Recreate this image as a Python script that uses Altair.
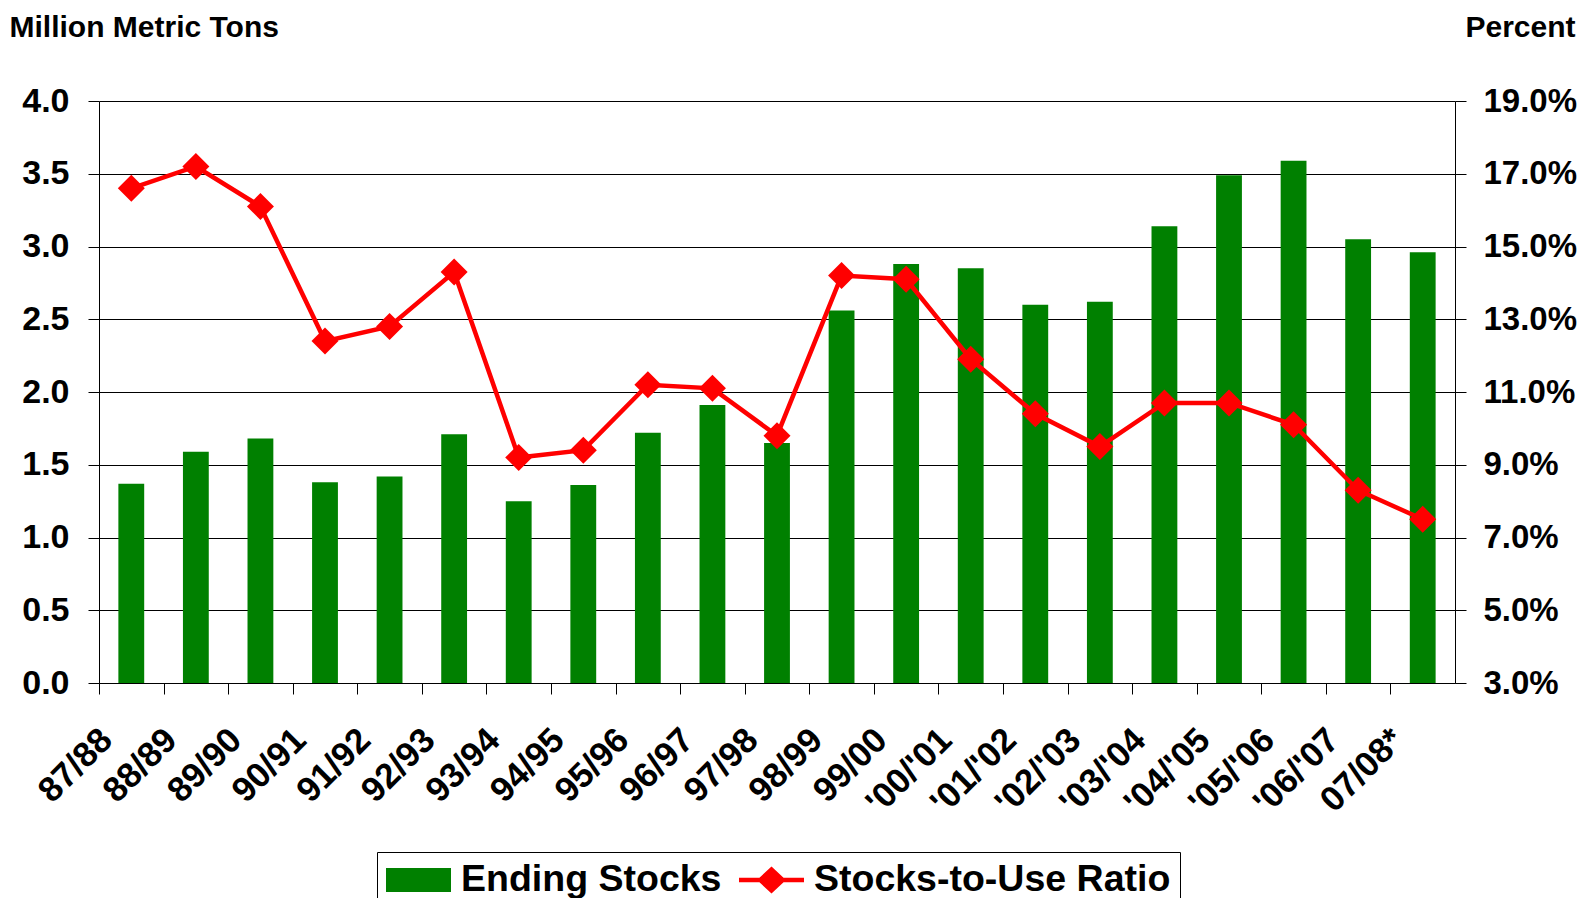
import altair as alt
import pandas as pd

seasons = ["87/88", "88/89", "89/90", "90/91", "91/92", "92/93", "93/94", "94/95",
           "95/96", "96/97", "97/98", "98/99", "99/00", "'00/'01", "'01/'02", "'02/'03",
           "'03/'04", "'04/'05", "'05/'06", "'06/'07", "07/08*"]
ending_stocks = [1.37, 1.59, 1.68, 1.38, 1.42, 1.71, 1.25, 1.36, 1.72, 1.91, 1.65,
                 2.56, 2.88, 2.85, 2.60, 2.62, 3.14, 3.49, 3.59, 3.05, 2.96]
stocks_to_use = [16.6, 17.2, 16.1, 12.4, 12.8, 14.3, 9.2, 9.4, 11.2, 11.1, 9.8,
                 14.2, 14.1, 11.9, 10.4, 9.5, 10.7, 10.7, 10.1, 8.3, 7.5]
series_names = ["Ending Stocks", "Stocks-to-Use Ratio"]
series_colors = ["#008000", "#FF0000"]
left_ticks = [0, 0.5, 1.0, 1.5, 2.0, 2.5, 3.0, 3.5, 4.0]
right_ticks = [3, 5, 7, 9, 11, 13, 15, 17, 19]

df = pd.DataFrame({"season": seasons, "stocks": ending_stocks, "ratio": stocks_to_use})
legend_df = pd.DataFrame({"series": series_names})

FONT = "Liberation Sans"
W, H = 1356, 582
n = len(seasons)
step = W / n

rect_path = "M-1,-0.37H1V0.37H-1Z"
line_path = "M-1,-0.07H-0.371L0,-0.415L0.371,-0.07H1V0.07H0.371L0,0.415L-0.371,0.07H-1Z"

x_enc = alt.X(
    "season:N", sort=seasons, title=None,
    scale=alt.Scale(paddingInner=0.6, paddingOuter=0.3),
    axis=alt.Axis(labelAngle=-45, labelAlign="right", labelBaseline="middle",
                  tickOffset=-step / 2, labelOffset=7, tickSize=11, labelPadding=40,
                  domainColor="black", tickColor="black", labelFontSize=35,
                  grid=False, labelLimit=300),
)

bars = alt.Chart(df).mark_bar(color="#008000").encode(
    x=x_enc,
    y=alt.Y("stocks:Q",
            scale=alt.Scale(domain=[0, 4], nice=False),
            axis=alt.Axis(values=left_ticks, format=".1f", grid=True, gridColor="black",
                          gridWidth=1, tickSize=11, labelPadding=19,
                          domainColor="black", tickColor="black",
                          title="Million Metric Tons", titleAngle=0, titleAlign="left",
                          titleBaseline="alphabetic", titleX=-90, titleY=-65)),
)

line = alt.Chart(df).mark_line(
    color="#FF0000", strokeWidth=4.5,
    point=alt.OverlayMarkDef(shape="diamond", size=729, filled=True, color="#FF0000", opacity=1),
).encode(
    x=x_enc,
    y=alt.Y("ratio:Q",
            scale=alt.Scale(domain=[3, 19], nice=False, zero=False),
            axis=alt.Axis(orient="right", values=right_ticks,
                          labelExpr="format(datum.value, '.1f') + '%'",
                          grid=False, tickSize=11, labelPadding=17, labelFontSize=33,
                          domainColor="black", tickColor="black",
                          title="Percent", titleAngle=0, titleAlign="right",
                          titleBaseline="alphabetic", titleX=120, titleY=-65)),
)

leg = alt.Legend(title=None, orient="none", legendX=278, legendY=751, direction="horizontal")
legend_layer = alt.Chart(legend_df).mark_point(filled=True, size=0).encode(
    color=alt.Color("series:N", scale=alt.Scale(domain=series_names, range=series_colors), legend=leg),
    shape=alt.Shape("series:N", scale=alt.Scale(domain=series_names, range=[rect_path, line_path]), legend=leg),
)

chart = alt.layer(bars, line, legend_layer).resolve_scale(y="independent").properties(
    width=W, height=H,
    autosize=alt.AutoSizeParams(type="none"),
    padding={"left": 91, "top": 93, "right": 122, "bottom": 215},
).configure_view(stroke=None).configure_axis(
    labelFont=FONT, labelFontWeight="bold", labelFontSize=34, labelColor="black",
    titleFont=FONT, titleFontWeight="bold", titleFontSize=30, titleColor="black",
    domainWidth=1, tickWidth=1,
).configure_legend(
    labelFont=FONT, labelFontWeight="bold", labelFontSize=37.5, labelColor="black",
    labelLimit=1000, labelOffset=10, symbolSize=4225, symbolStrokeWidth=0,
    symbolOpacity=1, strokeColor="black", fillColor="white", padding=9,
    columnPadding=17, clipHeight=38,
)

chart.save("out.html", embed_options={"renderer": "svg", "actions": False})
